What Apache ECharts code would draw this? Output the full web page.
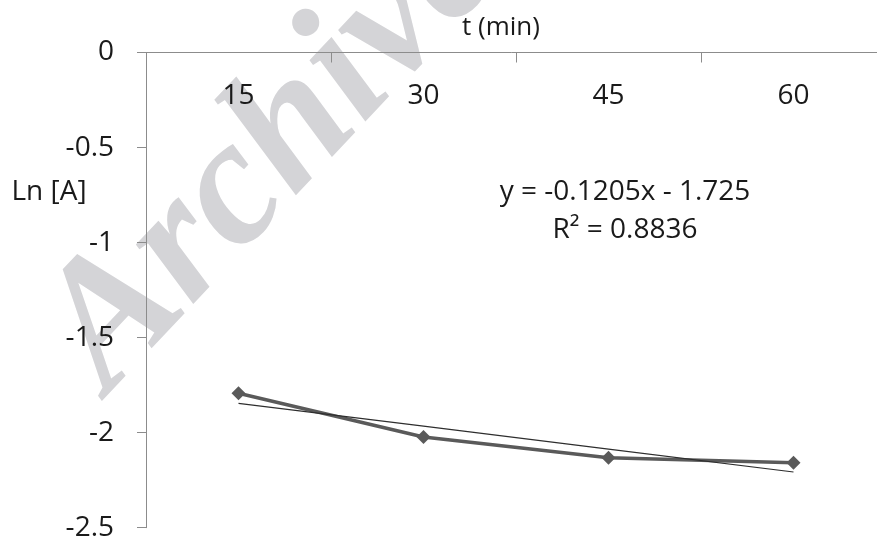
<!DOCTYPE html>
<html>
<head>
<meta charset="utf-8">
<script src="https://cdn.jsdelivr.net/npm/echarts@6/dist/echarts.min.js"></script>
<style>
html,body{margin:0;padding:0;background:#fff;}
#chart{width:877px;height:539px;}
</style>
</head>
<body>
<div id="chart"></div>
<script>
// Data
const categories = ['15', '30', '45', '60'];
const lnA = [-1.793, -2.023, -2.132, -2.158];
const trendValues = [-1.846, -1.966, -2.087, -2.207];
const yTicks = { min: -2.5, max: 0, interval: 0.5 };
const xTitle = 't (min)';
const yTitle = 'Ln [A]';
const equationText = 'y = -0.1205x - 1.725\nR² = 0.8836';
const watermarkText = 'Archive';

const FONT = 'Open Sans';
const chart = echarts.init(document.getElementById('chart'), null, { renderer: 'canvas' });
chart.setOption({
  animation: false,
  backgroundColor: '#ffffff',
  grid: { left: 146, top: 52.5, right: -9, bottom: 11.3, containLabel: false, outerBoundsMode: 'none' },
  xAxis: {
    type: 'category',
    data: categories,
    position: 'top',
    axisLine: { onZero: false, lineStyle: { color: '#8c8c8c', width: 1 } },
    axisTick: { show: true, inside: true, length: 10, lineStyle: { color: '#8c8c8c' } },
    axisLabel: { inside: true, color: '#1a1a1a', fontFamily: FONT, fontSize: 28, margin: 30 },
    splitLine: { show: false }
  },
  yAxis: {
    type: 'value',
    min: yTicks.min,
    max: yTicks.max,
    interval: yTicks.interval,
    axisLine: { show: true, lineStyle: { color: '#8c8c8c', width: 1 } },
    axisTick: { show: true, length: 9, lineStyle: { color: '#8c8c8c' } },
    axisLabel: { color: '#1a1a1a', fontFamily: FONT, fontSize: 28, margin: 32 },
    splitLine: { show: false }
  },
  graphic: [
    {
      type: 'text', z: -10,
      x: 140, y: 424, rotation: 0.815,
      style: {
        text: watermarkText, fill: '#d4d4d7',
        font: 'italic bold 180px "Liberation Serif"',
        textAlign: 'left', textVerticalAlign: 'bottom'
      }
    },
    {
      type: 'text', x: 501, y: 28,
      style: { text: xTitle, fill: '#1a1a1a', font: '26px "' + FONT + '"', textAlign: 'center', textVerticalAlign: 'middle' }
    },
    {
      type: 'text', x: 49, y: 192,
      style: { text: yTitle, fill: '#1a1a1a', font: '28px "' + FONT + '"', textAlign: 'center', textVerticalAlign: 'middle' }
    },
    {
      type: 'text', x: 625, y: 211,
      style: { text: equationText, fill: '#1a1a1a', font: '28px "' + FONT + '"', textAlign: 'center', textVerticalAlign: 'middle', lineHeight: 38 }
    }
  ],
  series: [
    {
      type: 'line',
      data: lnA,
      symbol: 'diamond',
      symbolSize: 14,
      lineStyle: { color: '#5a5a5a', width: 3.5 },
      itemStyle: { color: '#5a5a5a' },
      z: 3
    },
    {
      type: 'line',
      data: trendValues,
      symbol: 'none',
      lineStyle: { color: '#2e2e2e', width: 1.2 },
      z: 4
    }
  ]
});
</script>
</body>
</html>
